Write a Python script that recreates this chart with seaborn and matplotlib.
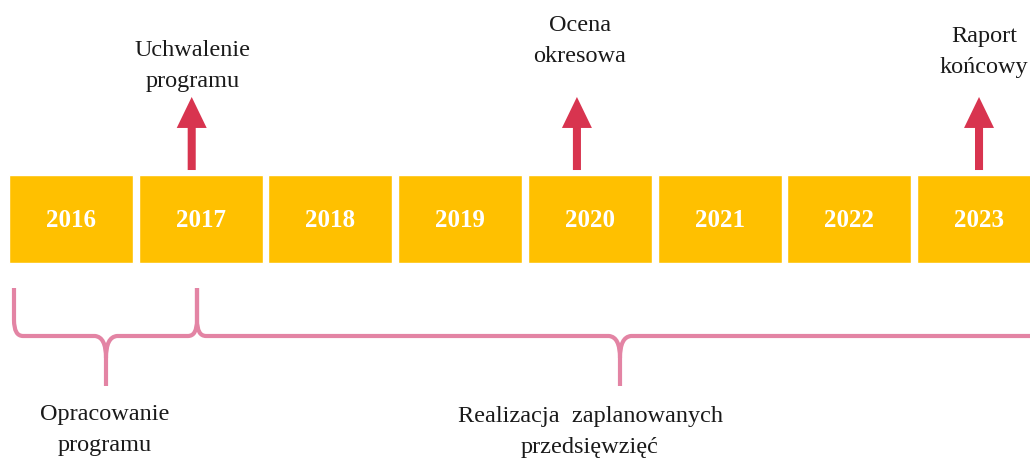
import matplotlib
matplotlib.use("Agg")
import matplotlib.pyplot as plt
import seaborn as sns
from matplotlib.path import Path
from matplotlib.patches import PathPatch, FancyArrow

years = ["2016", "2017", "2018", "2019", "2020", "2021", "2022", "2023"]
bar_height = [1, 1, 1, 1, 1, 1, 1, 1]

milestone_pos = [0.93, 3.90, 7.0]
milestone_labels = ["Uchwalenie\nprogramu", "Ocena\nokresowa", "Raport\nkońcowy"]

phase_labels = ["Opracowanie\nprogramu", "Realizacja  zaplanowanych\nprzedsięwzięć"]

gold = "#FFC000"
red = "#D8344F"
pink = "#E384A4"
ink = "#1a1a1a"
serif = ["Liberation Serif", "DejaVu Serif"]

sns.set_theme(style="white")
plt.rcParams["font.family"] = serif

fig = plt.figure(figsize=(10.3, 4.62), dpi=100)
ax = fig.add_axes([0, 0, 1, 1])

sns.barplot(x=years, y=bar_height, color=gold, saturation=1, width=0.956, ax=ax)
ax.set_xlim(-0.548, 7.393)
ax.set_ylim(-2.261, 2.989)
ax.axis("off")

for i, yr in enumerate(years):
    ax.text(i, 0.48, yr, ha="center", va="center", color="white",
            fontsize=18, fontweight="bold")

# arrows above the milestone years
for x in milestone_pos:
    ax.add_patch(FancyArrow(x, 1.057, 0, 0.83, width=0.062, head_width=0.231,
                            head_length=0.352, length_includes_head=True,
                            color=red, lw=0))

# overlay in pixel units for labels and braces
ov = fig.add_axes([0, 0, 1, 1], facecolor="none")
ov.set_xlim(0, 1030)
ov.set_ylim(462, 0)
ov.axis("off")

label_xy = [(193, 66), (580, 41), (984, 52)]
for (x, y), txt in zip(label_xy, milestone_labels):
    ov.text(x, y, txt, ha="center", va="center", fontsize=17.5, color=ink,
            linespacing=1.6)


def brace(x0, x1, tip, y_top=288, y_mid=336, y_bot=386):
    ex, ey = 9, 16     # rounding at the ends
    tx, ty = 11, 22    # rounding into the tip
    verts = [(x0, y_top), (x0, y_mid - ey), (x0, y_mid), (x0 + ex, y_mid),
             (tip - tx, y_mid), (tip, y_mid + 1), (tip, y_mid + ty), (tip, y_bot)]
    codes = [Path.MOVETO, Path.LINETO, Path.CURVE3, Path.CURVE3,
             Path.LINETO, Path.CURVE3, Path.CURVE3, Path.LINETO]
    verts += [(tip, y_mid + ty), (tip, y_mid + 1), (tip + tx, y_mid),
              (x1 - ex, y_mid), (x1, y_mid), (x1, y_mid - ey), (x1, y_top)]
    codes += [Path.MOVETO, Path.CURVE3, Path.CURVE3,
              Path.LINETO, Path.CURVE3, Path.CURVE3, Path.LINETO]
    ov.add_patch(PathPatch(Path(verts, codes), fill=False, edgecolor=pink,
                           lw=3, capstyle="butt", joinstyle="round"))


brace(14, 197, 106)
brace(197, 1060, 620)

ov.text(105, 430, phase_labels[0], ha="center", va="center", fontsize=17.5,
        color=ink, linespacing=1.6)
ov.text(590, 432, phase_labels[1], ha="center", va="center", fontsize=17.5,
        color=ink, linespacing=1.6)

fig.savefig("out.png", dpi=100)
